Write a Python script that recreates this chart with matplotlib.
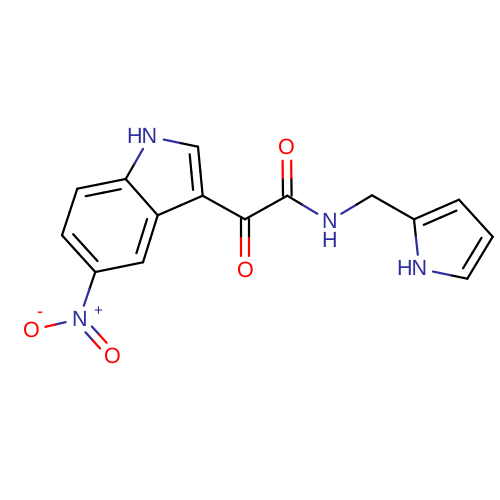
import numpy as np
import matplotlib
matplotlib.use("Agg")
import matplotlib.pyplot as plt

plt.rcParams['font.family'] = ['Liberation Sans', 'DejaVu Sans']
plt.rcParams['text.hinting'] = 'no_hinting'

BLUE = '#2e2e9c'
RED = '#ff0000'
colors = {'C': 'black', 'N': BLUE, 'O': RED}

# atom positions
atom_names = ['N1', 'C2', 'C3', 'C3a', 'C4', 'C5', 'C6', 'C7', 'C7a',
              'Nn', 'Om', 'Od', 'Ck', 'Ok', 'Ca', 'Oa', 'Na',
              'CH2', 'C2p', 'C3p', 'C4p', 'C5p', 'Np']
atom_x = [150, 198, 202.7, 157.7, 143, 95.3, 62, 77.3, 125.7,
          79.3, 31.7, 112.7, 245, 245, 287.3, 286.7, 329.3,
          372, 414, 459, 492.7, 467.3, 419.3]
atom_y = [136.7, 146.7, 195.7, 215.3, 262.3, 272, 235.3, 188.7, 179,
          319, 330, 356, 219.3, 270, 195.7, 146.7, 221,
          195.3, 219.3, 199.7, 236.7, 278.7, 268.7]
atom_types = ['N', 'C', 'C', 'C', 'C', 'C', 'C', 'C', 'C',
              'N', 'O', 'O', 'C', 'O', 'C', 'O', 'N',
              'C', 'C', 'C', 'C', 'C', 'N']

single_bonds = [('N1', 'C2'), ('C3', 'C3a'), ('C3a', 'C7a'), ('C4', 'C5'), ('C6', 'C7'),
                ('C7a', 'N1'), ('C5', 'Nn'), ('Nn', 'Om'), ('C3', 'Ck'), ('Ck', 'Ca'),
                ('Ca', 'Na'), ('Na', 'CH2'), ('CH2', 'C2p'), ('C2p', 'Np'),
                ('C3p', 'C4p'), ('C5p', 'Np')]
ring_doubles = [('C2', 'C3'), ('C3a', 'C4'), ('C5', 'C6'), ('C7', 'C7a'),
                ('C2p', 'C3p'), ('C4p', 'C5p')]
side_doubles = [('Nn', 'Od'), ('Ck', 'Ok'), ('Ca', 'Oa')]
rings = [['N1', 'C2', 'C3', 'C3a', 'C7a'],
         ['C3a', 'C4', 'C5', 'C6', 'C7', 'C7a'],
         ['C2p', 'C3p', 'C4p', 'C5p', 'Np']]

pos = {n: np.array([x, y]) for n, x, y in zip(atom_names, atom_x, atom_y)}
kind = dict(zip(atom_names, atom_types))

fig = plt.figure(figsize=(5, 5), dpi=100)
ax = fig.add_axes([0, 0, 1, 1])
ax.set_xlim(0, 500)
ax.set_ylim(500, 0)
ax.axis('off')


def draw_bond(a, b, off=np.zeros(2), shrink=0.0):
    # two tone bond, split half way along the part that is visible
    p, q = pos[a], pos[b]
    u = (q - p) / np.linalg.norm(q - p)
    start = p + u * (14 if kind[a] != 'C' else shrink) + off
    end = q - u * (14 if kind[b] != 'C' else shrink) + off
    mid = (start + end) / 2
    for s, e, n in ((start, mid, a), (mid, end, b)):
        ax.plot([s[0], e[0]], [s[1], e[1]], color=colors[kind[n]], lw=1.6,
                solid_capstyle='round')


for a, b in single_bonds:
    draw_bond(a, b)

for a, b in ring_doubles:
    draw_bond(a, b)
    ring = next(r for r in rings if a in r and b in r)
    centre = np.mean([pos[n] for n in ring], axis=0)
    u = (pos[b] - pos[a]) / np.linalg.norm(pos[b] - pos[a])
    normal = np.array([-u[1], u[0]])
    if np.dot(centre - pos[a], normal) < 0:
        normal = -normal
    draw_bond(a, b, normal * 9, shrink=6.7)

for a, b in side_doubles:
    u = (pos[b] - pos[a]) / np.linalg.norm(pos[b] - pos[a])
    normal = np.array([-u[1], u[0]])
    draw_bond(a, b, normal * 4.3)
    draw_bond(a, b, -normal * 4.3)

text_style = dict(ha='center', va='center', fontsize=15.5)
ax.text(142, 137.7, 'HN', color=BLUE, **text_style)
ax.text(412, 269.7, 'HN', color=BLUE, **text_style)
ax.text(329.3, 222, 'N', color=BLUE, **text_style)
ax.text(329.3, 241, 'H', color=BLUE, **text_style)
ax.text(79.3, 320, 'N', color=BLUE, **text_style)
for n in ('Om', 'Od', 'Ok', 'Oa'):
    ax.text(pos[n][0], pos[n][1] + 1, 'O', color=RED, **text_style)
ax.text(39, 312.5, '-', color=RED, ha='center', va='center', fontsize=13)
ax.text(97.3, 311.7, '+', color=BLUE, ha='center', va='center', fontsize=11)

fig.savefig('out.png', dpi=100)
